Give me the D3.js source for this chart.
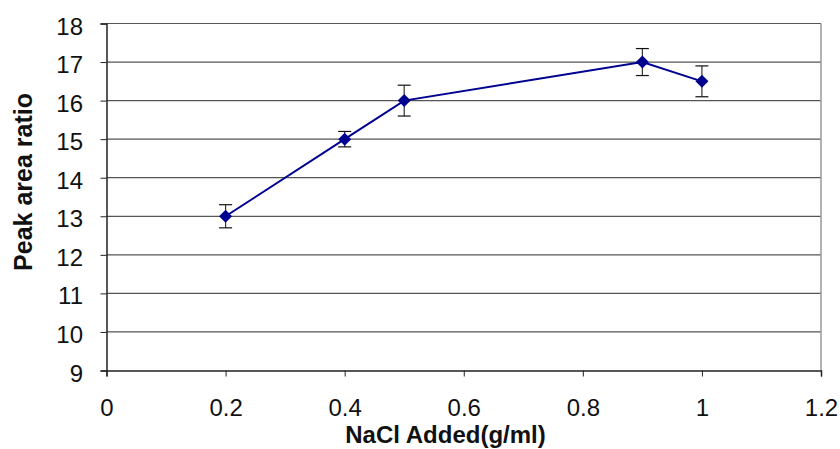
<!DOCTYPE html>
<html><head><meta charset="utf-8">
<script src="https://cdn.jsdelivr.net/npm/d3@7"></script>
<style>body{margin:0;background:#fff}</style>
</head><body>
<svg id="c" width="840" height="449"></svg>
<script>
const xValues = [0.2, 0.4, 0.5, 0.9, 1.0];
const yValues = [13, 15, 16, 17, 16.5];
const yErrors = [0.3, 0.2, 0.4, 0.35, 0.4];
const xTicks = [0, 0.2, 0.4, 0.6, 0.8, 1, 1.2];
const yTicks = [9, 10, 11, 12, 13, 14, 15, 16, 17, 18];
const xTitle = "NaCl Added(g/ml)";
const yTitle = "Peak area ratio";

const svg = d3.select("#c");
const L = 106.5, R = 821, T = 23.5, B = 370.5;
const x = d3.scaleLinear().domain([0, 1.2]).range([L, R]);
const y = d3.scaleLinear().domain([9, 18]).range([B, T]);
const font = "'Liberation Sans', Arial, sans-serif";

// gridlines
svg.append("g").selectAll("line").data(yTicks.slice(1)).join("line")
  .attr("x1", L).attr("x2", R).attr("y1", d => y(d)).attr("y2", d => y(d))
  .attr("stroke", "#555").attr("stroke-width", 1.2);
// right border
svg.append("line").attr("x1", R).attr("x2", R).attr("y1", T).attr("y2", B)
  .attr("stroke", "#999").attr("stroke-width", 1.5);

const yAxis = svg.append("g").attr("transform", `translate(${L},0)`)
  .call(d3.axisLeft(y).tickValues(yTicks).tickSize(6).tickPadding(17.5).tickFormat(d3.format("d")));
const xAxis = svg.append("g").attr("transform", `translate(0,${B})`)
  .call(d3.axisBottom(x).tickValues(xTicks).tickSize(6).tickPadding(22).tickFormat(d => String(d)));
[yAxis, xAxis].forEach(a => {
  a.select(".domain").attr("stroke", "#222").attr("stroke-width", 1.5);
  a.selectAll(".tick line").attr("stroke", "#222");
  a.selectAll("text").attr("font-family", font).attr("font-size", 24).attr("fill", "#111");
});
yAxis.selectAll("text").attr("dy", "0.44em");

// line
svg.append("path").datum(xValues.map((v, i) => [v, yValues[i]]))
  .attr("d", d3.line().x(d => x(d[0])).y(d => y(d[1])))
  .attr("fill", "none").attr("stroke", "#000090").attr("stroke-width", 2);

// error bars
const eb = svg.append("g").selectAll("g").data(xValues.map((v, i) => ({x: v, y: yValues[i], e: yErrors[i]}))).join("g");
eb.append("line").attr("x1", d => x(d.x)).attr("x2", d => x(d.x))
  .attr("y1", d => y(d.y + d.e)).attr("y2", d => y(d.y - d.e)).attr("stroke", "#333").attr("stroke-width", 1.2);
eb.append("line").attr("x1", d => x(d.x) - 6.5).attr("x2", d => x(d.x) + 6.5)
  .attr("y1", d => y(d.y + d.e)).attr("y2", d => y(d.y + d.e)).attr("stroke", "#111").attr("stroke-width", 1.2);
eb.append("line").attr("x1", d => x(d.x) - 6.5).attr("x2", d => x(d.x) + 6.5)
  .attr("y1", d => y(d.y - d.e)).attr("y2", d => y(d.y - d.e)).attr("stroke", "#111").attr("stroke-width", 1.2);

// markers
svg.append("g").selectAll("path").data(xValues.map((v, i) => [v, yValues[i]])).join("path")
  .attr("transform", d => `translate(${x(d[0])},${y(d[1])})`)
  .attr("d", "M0,-6.5L6.5,0L0,6.5L-6.5,0Z").attr("fill", "#000090");

// titles
svg.append("text").attr("x", 445.5).attr("y", 443).attr("text-anchor", "middle")
  .attr("font-family", font).attr("font-size", 24).attr("font-weight", "bold").attr("fill", "#111").text(xTitle);
svg.append("text").attr("transform", `translate(32,182) rotate(-90)`).attr("text-anchor", "middle")
  .attr("font-family", font).attr("font-size", 25).attr("font-weight", "bold").attr("fill", "#111").text(yTitle);
</script>
</body></html>
